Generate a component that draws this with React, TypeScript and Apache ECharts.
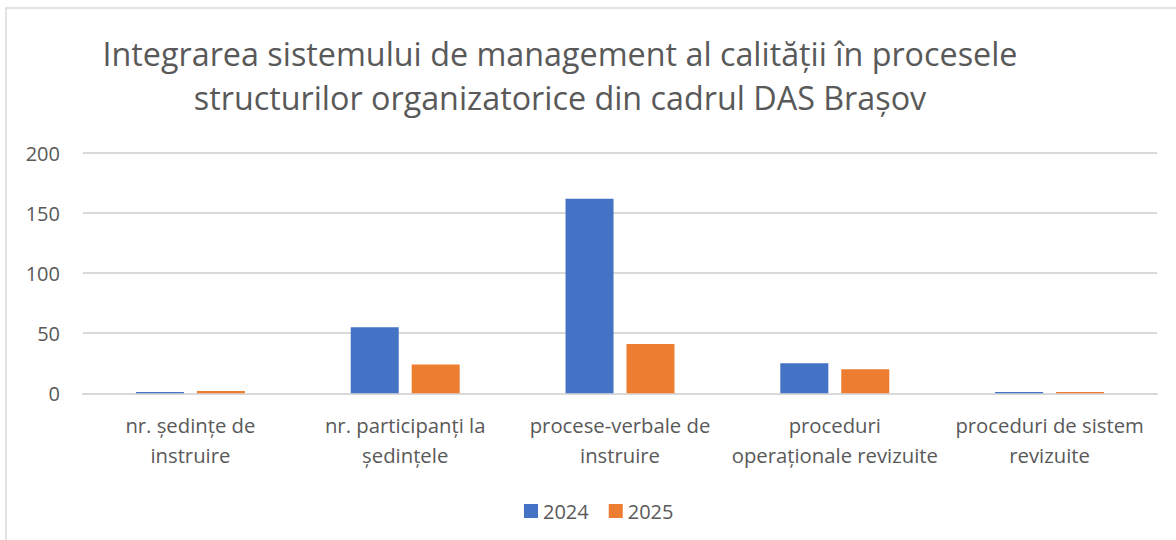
import React, { useEffect, useRef } from "react";
import * as echarts from "echarts";

const titleLines = [
  "Integrarea sistemului de management al calității în procesele",
  "structurilor organizatorice din cadrul DAS Brașov",
];
const categories = [
  "nr. ședințe de\ninstruire",
  "nr. participanți la\nședințele",
  "procese-verbale de\ninstruire",
  "proceduri\noperaționale revizuite",
  "proceduri de sistem\nrevizuite",
];
const series2024 = [1, 55, 162, 25, 1];
const series2025 = [2, 24, 41, 20, 1];
const seriesNames = ["2024", "2025"];
const yTicks = { min: 0, max: 200, interval: 50 };

const FONT = "'Open Sans', sans-serif";
const TEXT = "#595959";

export default function App() {
  const ref = useRef<HTMLDivElement>(null);
  useEffect(() => {
    if (!ref.current) return;
    const chart = echarts.init(ref.current, null, { renderer: "svg" });
    chart.setOption({
      animation: false,
      textStyle: { fontFamily: FONT },
      graphic: [
        {
          type: "rect",
          shape: { x: 6, y: 8, width: 1300, height: 700 },
          style: { fill: "#ffffff", stroke: "#d9d9d9", lineWidth: 1.5 },
          z: -10,
          silent: true,
        },
        {
          type: "text",
          style: {
            x: 560,
            y: 31,
            text: titleLines.join("\n"),
            fill: TEXT,
            font: `32.3px ${FONT}`,
            lineHeight: 44,
            align: "center",
            verticalAlign: "top",
          },
        },
      ],
      legend: {
        data: seriesNames,
        left: 519,
        top: 496,
        itemWidth: 14,
        itemHeight: 14,
        itemGap: 20,
        icon: "rect",
        textStyle: { color: TEXT, fontSize: 20, fontFamily: FONT },
      },
      grid: { left: 83, right: 19, top: 153, bottom: 146.7, containLabel: false },
      xAxis: {
        type: "category",
        data: categories,
        axisLine: { lineStyle: { color: "#d9d9d9", width: 2 } },
        axisTick: { show: false },
        axisLabel: {
          color: TEXT,
          fontSize: 20.3,
          fontFamily: FONT,
          lineHeight: 29.5,
          margin: 17,
          interval: 0,
        },
      },
      yAxis: {
        type: "value",
        min: yTicks.min,
        max: yTicks.max,
        interval: yTicks.interval,
        axisLine: { show: false },
        axisTick: { show: false },
        splitLine: { lineStyle: { color: "#d9d9d9", width: 2 } },
        axisLabel: { color: TEXT, fontSize: 20, fontFamily: FONT, margin: 23 },
      },
      series: [
        {
          name: seriesNames[0],
          type: "bar",
          data: series2024,
          barWidth: 48,
          barGap: "27%",
          itemStyle: { color: "#4472C4" },
        },
        {
          name: seriesNames[1],
          type: "bar",
          data: series2025,
          barWidth: 48,
          itemStyle: { color: "#ED7D31" },
        },
      ],
    });
    return () => chart.dispose();
  }, []);
  return (
    <div
      ref={ref}
      style={{ position: "fixed", left: 0, top: 0, width: 1176, height: 540, background: "#fff" }}
    />
  );
}
